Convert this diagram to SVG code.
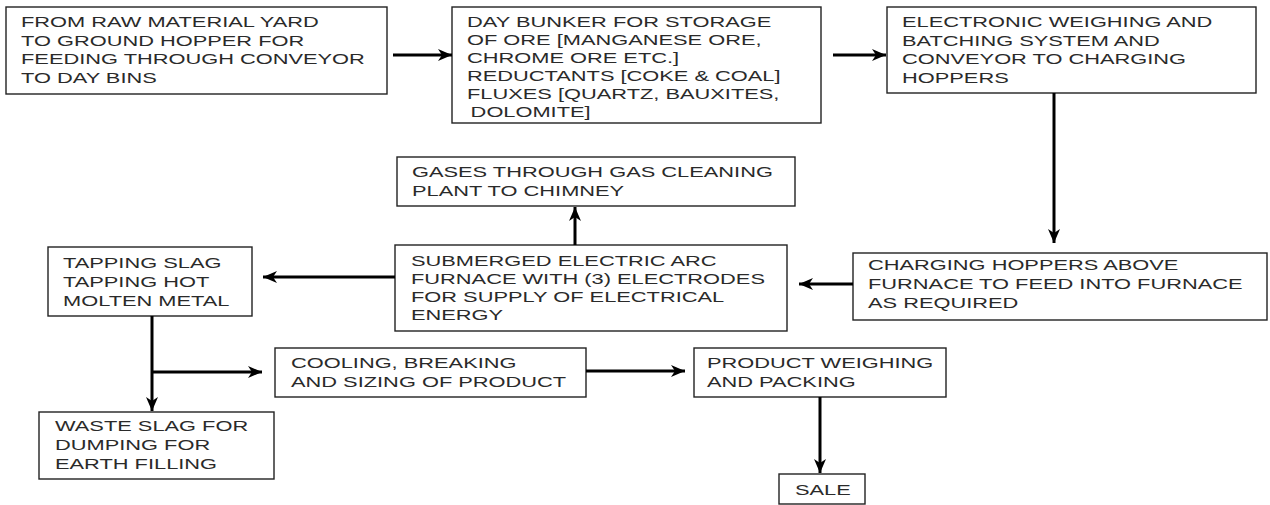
<svg xmlns="http://www.w3.org/2000/svg" width="1270" height="505" viewBox="0 0 1270 505">
<style>
.box{fill:#fff;stroke:#222;stroke-width:1.4}
.t{font-family:"Liberation Sans",Arial,sans-serif;font-size:15px;fill:#2a2a2a}
.c{fill:none;stroke:#000;stroke-width:3}
</style>
<defs>
<marker id="ah" markerUnits="userSpaceOnUse" viewBox="0 0 14 12" refX="14" refY="6" markerWidth="14" markerHeight="12" orient="auto">
<path d="M0,0 L14,6 L0,12 L4,6 Z" fill="#000"/>
</marker>
</defs>
<rect width="1270" height="505" fill="#fff"/>
<g id="n1"><rect class="box" x="6" y="7" width="381" height="87"/>
<text class="t" transform="translate(21,0) scale(1.455,1)"><tspan x="0" y="27.5">FROM RAW MATERIAL YARD</tspan><tspan x="0" y="46">TO GROUND HOPPER FOR</tspan><tspan x="0" y="64.5">FEEDING THROUGH CONVEYOR</tspan><tspan x="0" y="83">TO DAY BINS</tspan></text></g>
<g id="n2"><rect class="box" x="452" y="7" width="369" height="116"/>
<text class="t" transform="translate(467,0) scale(1.455,1)"><tspan x="0" y="27.3">DAY BUNKER FOR STORAGE</tspan><tspan x="0" y="45.3">OF ORE [MANGANESE ORE,</tspan><tspan x="0" y="63.3">CHROME ORE ETC.]</tspan><tspan x="0" y="81.3">REDUCTANTS [COKE &amp; COAL]</tspan><tspan x="0" y="99.3">FLUXES [QUARTZ, BAUXITES,</tspan><tspan x="2.5" y="117.3">DOLOMITE]</tspan></text></g>
<g id="n3"><rect class="box" x="887" y="7" width="369" height="86"/>
<text class="t" transform="translate(902,0) scale(1.455,1)"><tspan x="0" y="27.5">ELECTRONIC WEIGHING AND</tspan><tspan x="0" y="46">BATCHING SYSTEM AND</tspan><tspan x="0" y="64.5">CONVEYOR TO CHARGING</tspan><tspan x="0" y="83">HOPPERS</tspan></text></g>
<g id="n4"><rect class="box" x="853" y="253" width="414" height="67"/>
<text class="t" transform="translate(868,0) scale(1.455,1)"><tspan x="0" y="270">CHARGING HOPPERS ABOVE</tspan><tspan x="0" y="289">FURNACE TO FEED INTO FURNACE</tspan><tspan x="0" y="308">AS REQUIRED</tspan></text></g>
<g id="n5"><rect class="box" x="395" y="245" width="392" height="86"/>
<text class="t" transform="translate(411,0) scale(1.455,1)"><tspan x="0" y="266">SUBMERGED ELECTRIC ARC</tspan><tspan x="0" y="284">FURNACE WITH (3) ELECTRODES</tspan><tspan x="0" y="302">FOR SUPPLY OF ELECTRICAL</tspan><tspan x="0" y="320">ENERGY</tspan></text></g>
<g id="n6"><rect class="box" x="397" y="157" width="398" height="49"/>
<text class="t" transform="translate(412,0) scale(1.455,1)"><tspan x="0" y="177">GASES THROUGH GAS CLEANING</tspan><tspan x="0" y="196">PLANT TO CHIMNEY</tspan></text></g>
<g id="n7"><rect class="box" x="48" y="247" width="204" height="69"/>
<text class="t" transform="translate(63,0) scale(1.455,1)"><tspan x="0" y="268">TAPPING SLAG</tspan><tspan x="0" y="287">TAPPING HOT</tspan><tspan x="0" y="306">MOLTEN METAL</tspan></text></g>
<g id="n8"><rect class="box" x="39" y="412" width="235" height="67"/>
<text class="t" transform="translate(55,0) scale(1.455,1)"><tspan x="0" y="431">WASTE SLAG FOR</tspan><tspan x="0" y="450">DUMPING FOR</tspan><tspan x="0" y="469">EARTH FILLING</tspan></text></g>
<g id="n9"><rect class="box" x="275" y="348" width="311" height="49"/>
<text class="t" transform="translate(291,0) scale(1.455,1)"><tspan x="0" y="368">COOLING, BREAKING</tspan><tspan x="0" y="387">AND SIZING OF PRODUCT</tspan></text></g>
<g id="n10"><rect class="box" x="694" y="348" width="252" height="49"/>
<text class="t" transform="translate(707,0) scale(1.455,1)"><tspan x="0" y="368">PRODUCT WEIGHING</tspan><tspan x="0" y="387">AND PACKING</tspan></text></g>
<g id="n11"><rect class="box" x="779" y="474" width="86" height="30"/>
<text class="t" transform="translate(795,0) scale(1.455,1)"><tspan x="0" y="495">SALE</tspan></text></g>
<g id="connectors">
<path class="c" d="M393,55 H452" marker-end="url(#ah)"/>
<path class="c" d="M833,55 H886" marker-end="url(#ah)"/>
<path class="c" d="M1054,93 V243" marker-end="url(#ah)"/>
<path class="c" d="M853,284 H799" marker-end="url(#ah)"/>
<path class="c" d="M575,245 V207" marker-end="url(#ah)"/>
<path class="c" d="M395,277 H263" marker-end="url(#ah)"/>
<path class="c" d="M152,316 V411" marker-end="url(#ah)"/>
<path class="c" d="M152,372 H262" marker-end="url(#ah)"/>
<path class="c" d="M586,371 H685" marker-end="url(#ah)"/>
<path class="c" d="M820,397 V473" marker-end="url(#ah)"/>
</g>
</svg>
